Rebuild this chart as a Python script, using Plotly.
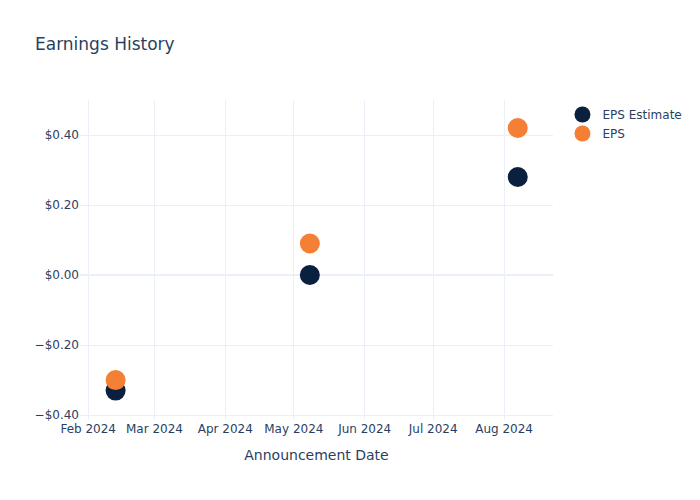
import plotly.graph_objects as go

dates = ["2024-02-13", "2024-05-08", "2024-08-07"]
eps_estimate = [-0.33, 0.00, 0.28]
eps_actual = [-0.30, 0.09, 0.42]

fig = go.Figure()
fig.add_trace(go.Scatter(x=dates, y=eps_estimate, mode="markers", name="EPS Estimate",
                         marker=dict(color="#0b1f3f", size=20)))
fig.add_trace(go.Scatter(x=dates, y=eps_actual, mode="markers", name="EPS",
                         marker=dict(color="#f58035", size=20)))
fig.update_layout(
    template="plotly_white",
    font=dict(family="DejaVu Sans"),
    title="Earnings History",
    width=700, height=500,
    margin=dict(l=80, r=147, t=100, b=80),
    xaxis=dict(title="Announcement Date", range=["2024-01-28 10:00", "2024-08-22 10:00"]),
    yaxis=dict(tickformat="$.2f", dtick=0.2, range=[-0.414, 0.5]),
)
fig.write_html("out.html", config={"displayModeBar": False},
               post_script="document.body.style.margin='0';")
